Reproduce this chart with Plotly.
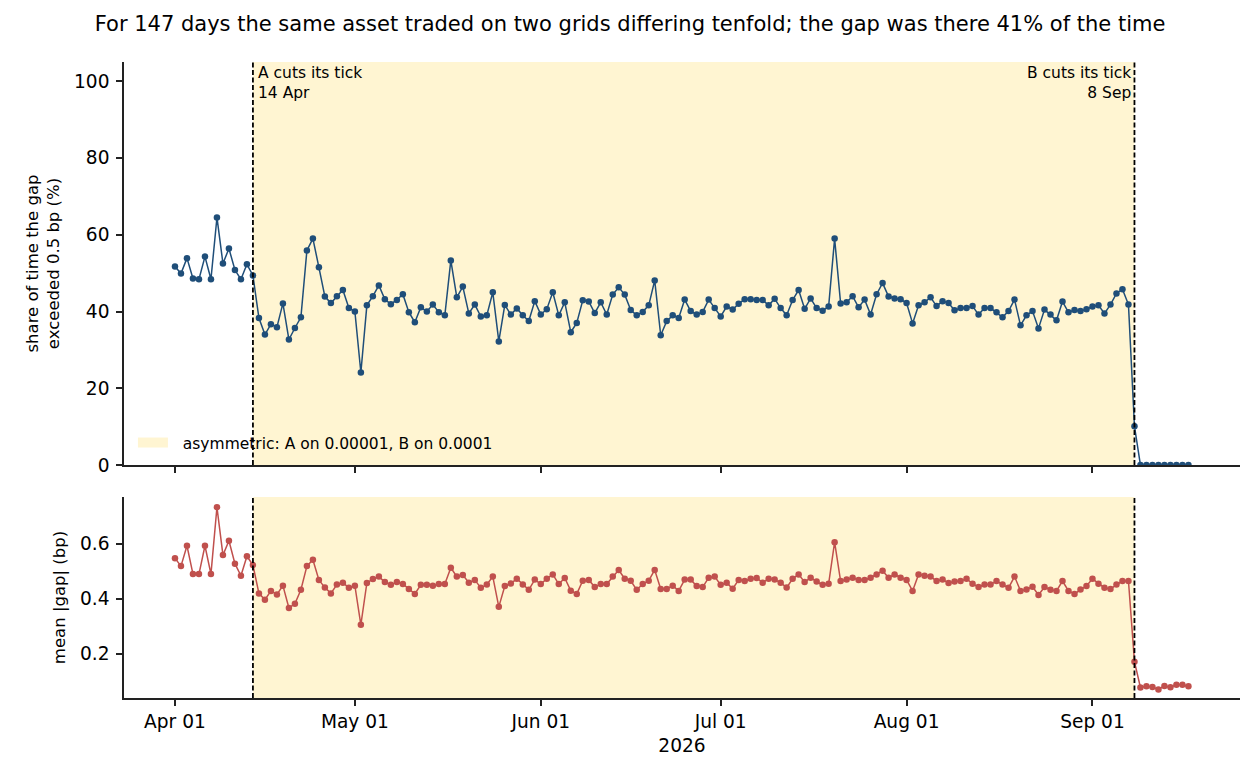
import pandas as pd
import plotly.graph_objects as go

# daily observations, 1 Apr 2026 onwards
start_day = "2026-04-01"
n_days = 170
cut_a = "2026-04-14"
cut_b = "2026-09-08"

share_pct = [
    51.7, 49.9, 53.9, 48.6, 48.4, 54.3, 48.4, 64.5, 52.5, 56.4,
    50.8, 48.4, 52.3, 49.4, 38.3, 34.0, 36.7, 35.9, 42.1, 32.7,
    35.7, 38.5, 55.9, 59.0, 51.5, 43.9, 42.2, 44.0, 45.6, 40.9,
    40.0, 24.1, 41.6, 44.0, 46.8, 43.2, 41.9, 43.0, 44.5, 39.8,
    37.2, 41.1, 40.0, 41.8, 39.8, 39.0, 53.3, 43.7, 46.5, 39.5,
    41.8, 38.7, 39.0, 45.0, 32.2, 41.7, 39.2, 40.8, 39.0, 37.5,
    42.7, 39.2, 40.6, 45.0, 39.0, 42.4, 34.6, 37.0, 42.9, 42.6,
    39.6, 42.4, 39.2, 44.4, 46.3, 44.4, 40.4, 39.0, 39.9, 41.6,
    48.1, 33.8, 37.5, 39.0, 38.3, 43.1, 40.1, 39.2, 39.9, 43.1,
    40.9, 38.7, 41.3, 40.5, 42.0, 43.2, 43.2, 43.0, 43.0, 41.6,
    43.3, 40.9, 39.0, 43.0, 45.6, 40.7, 43.4, 40.9, 40.2, 41.3,
    59.0, 42.1, 42.4, 44.0, 41.1, 43.1, 39.2, 44.5, 47.4, 43.9,
    43.4, 43.2, 42.2, 36.9, 41.6, 42.4, 43.7, 41.4, 42.7, 42.2,
    40.3, 40.9, 40.9, 41.4, 39.2, 40.9, 40.9, 39.8, 38.5, 40.1,
    43.1, 36.4, 39.0, 40.1, 35.6, 40.5, 39.2, 37.7, 42.6, 39.8,
    40.4, 40.1, 40.6, 41.3, 41.6, 39.5, 41.8, 44.7, 45.8, 41.8,
    10.1, 0.0, 0.0, 0.0, 0.0, 0.0, 0.0, 0.0, 0.0, 0.0,
]

mean_gap_bp = [
    0.548, 0.519, 0.593, 0.490, 0.490, 0.593, 0.490, 0.733, 0.559, 0.611,
    0.528, 0.484, 0.555, 0.523, 0.420, 0.397, 0.429, 0.416, 0.448, 0.367,
    0.382, 0.433, 0.519, 0.542, 0.469, 0.441, 0.420, 0.452, 0.459, 0.440,
    0.448, 0.306, 0.458, 0.472, 0.481, 0.461, 0.451, 0.461, 0.454, 0.436,
    0.418, 0.451, 0.451, 0.448, 0.454, 0.454, 0.513, 0.481, 0.487, 0.459,
    0.469, 0.440, 0.452, 0.481, 0.371, 0.447, 0.456, 0.473, 0.452, 0.433,
    0.470, 0.454, 0.473, 0.489, 0.454, 0.476, 0.430, 0.418, 0.466, 0.469,
    0.443, 0.454, 0.454, 0.481, 0.505, 0.473, 0.466, 0.433, 0.454, 0.466,
    0.505, 0.436, 0.436, 0.448, 0.429, 0.470, 0.470, 0.447, 0.443, 0.477,
    0.481, 0.451, 0.459, 0.437, 0.469, 0.465, 0.473, 0.476, 0.459, 0.473,
    0.470, 0.459, 0.441, 0.473, 0.489, 0.461, 0.477, 0.463, 0.451, 0.455,
    0.606, 0.465, 0.470, 0.477, 0.469, 0.469, 0.477, 0.489, 0.502, 0.477,
    0.489, 0.477, 0.469, 0.429, 0.489, 0.484, 0.481, 0.465, 0.470, 0.458,
    0.463, 0.465, 0.473, 0.455, 0.443, 0.452, 0.452, 0.465, 0.452, 0.440,
    0.481, 0.429, 0.434, 0.444, 0.414, 0.443, 0.433, 0.429, 0.465, 0.429,
    0.418, 0.434, 0.447, 0.473, 0.455, 0.440, 0.436, 0.452, 0.465, 0.465,
    0.172, 0.078, 0.083, 0.080, 0.071, 0.084, 0.079, 0.088, 0.088, 0.083,
]

fechas = pd.date_range(start_day, periods=n_days, freq="D")
x_range = [fechas[0] - pd.Timedelta(days=8.5), fechas[-1] + pd.Timedelta(days=8.6)]

FONT = "DejaVu Sans"
BLUE = "#1f4e79"
RED = "#c0504d"
SHADE = "#fff5d2"
AX = "#222222"

fig = go.Figure()

fig.add_trace(go.Scatter(x=fechas, y=share_pct, mode="lines+markers",
                         line=dict(color=BLUE, width=1.5),
                         marker=dict(color=BLUE, size=6.5),
                         showlegend=False, xaxis="x", yaxis="y"))
fig.add_trace(go.Scatter(x=fechas, y=mean_gap_bp, mode="lines+markers",
                         line=dict(color=RED, width=1.5),
                         marker=dict(color=RED, size=6.5),
                         showlegend=False, xaxis="x2", yaxis="y2"))
# legend swatch only (nbsp pushes the label to where the reference has it)
fig.add_trace(go.Scatter(x=[None], y=[None], mode="lines",
                         line=dict(color=SHADE, width=11),
                         name="\u00a0\u00a0asymmetric: A on 0.00001, B on 0.0001",
                         xaxis="x", yaxis="y"))

# shaded asymmetric period + the two cut lines, in both panels
for yr in ["y", "y2"]:
    fig.add_shape(type="rect", xref="x", yref=yr + " domain",
                  x0=cut_a, x1=cut_b, y0=0, y1=1,
                  fillcolor=SHADE, line_width=0, layer="below")
    for d in [cut_a, cut_b]:
        fig.add_shape(type="line", xref="x", yref=yr + " domain",
                      x0=d, x1=d, y0=0, y1=1,
                      line=dict(color="black", width=1.8, dash="5px,2.5px"))

fig.add_annotation(x=cut_a, y=1, xref="x", yref="y domain",
                   text="A cuts its tick<br>14 Apr", showarrow=False,
                   xanchor="left", yanchor="top", align="left", xshift=3,
                   font=dict(family=FONT, size=15.5, color="black"))
fig.add_annotation(x=cut_b, y=1, xref="x", yref="y domain",
                   text="B cuts its tick<br>8 Sep", showarrow=False,
                   xanchor="right", yanchor="top", align="right", xshift=-1,
                   font=dict(family=FONT, size=15.5, color="black"))

ejes = dict(showgrid=False, zeroline=False, showline=True, linecolor=AX,
            linewidth=1.5, ticks="outside", ticklen=6, tickwidth=1.5,
            tickcolor=AX, tickfont=dict(family=FONT, size=18.6, color="black"))

# the page body adds 8px, so margins are shifted by that
fig.update_layout(
    width=1260, height=780,
    margin=dict(l=116, r=28, t=54, b=90),
    plot_bgcolor="white", paper_bgcolor="white",
    font=dict(family=FONT, color="black"),
    title=dict(text="For 147 days the same asset traded on two grids differing tenfold; "
                    "the gap was there 41% of the time",
               x=0.4937, xref="container", xanchor="center",
               y=0.9795, yanchor="middle",
               font=dict(family=FONT, size=21, color="black")),
    xaxis=dict(domain=[0, 1], anchor="y", range=x_range, showticklabels=False,
               tick0=start_day, dtick="M1", **ejes),
    xaxis2=dict(domain=[0, 1], anchor="y2", range=x_range, matches="x",
                tick0=start_day, dtick="M1", tickformat="%b %d",
                title=dict(text="2026", standoff=8,
                           font=dict(family=FONT, size=18.6, color="black")),
                **ejes),
    yaxis=dict(domain=[0.3663, 1], anchor="x", range=[0, 105],
               tickvals=[0, 20, 40, 60, 80, 100], ticklabelstandoff=3,
               title=dict(text="share of time the gap<br>exceeded 0.5 bp (%)",
                          standoff=10,
                          font=dict(family=FONT, size=16.5, color="black")),
               **ejes),
    yaxis2=dict(domain=[0, 0.316], anchor="x2", range=[0.04, 0.77],
                tickvals=[0.2, 0.4, 0.6], tickformat=".1f", ticklabelstandoff=3,
                title=dict(text="mean |gap| (bp)", standoff=10,
                           font=dict(family=FONT, size=16.5, color="black")),
                **ejes),
    legend=dict(x=0.008, y=0.401, xanchor="left", yanchor="middle",
                bgcolor="rgba(0,0,0,0)",
                font=dict(family=FONT, size=15.5, color="black")),
)

fig.write_html("out.html")
